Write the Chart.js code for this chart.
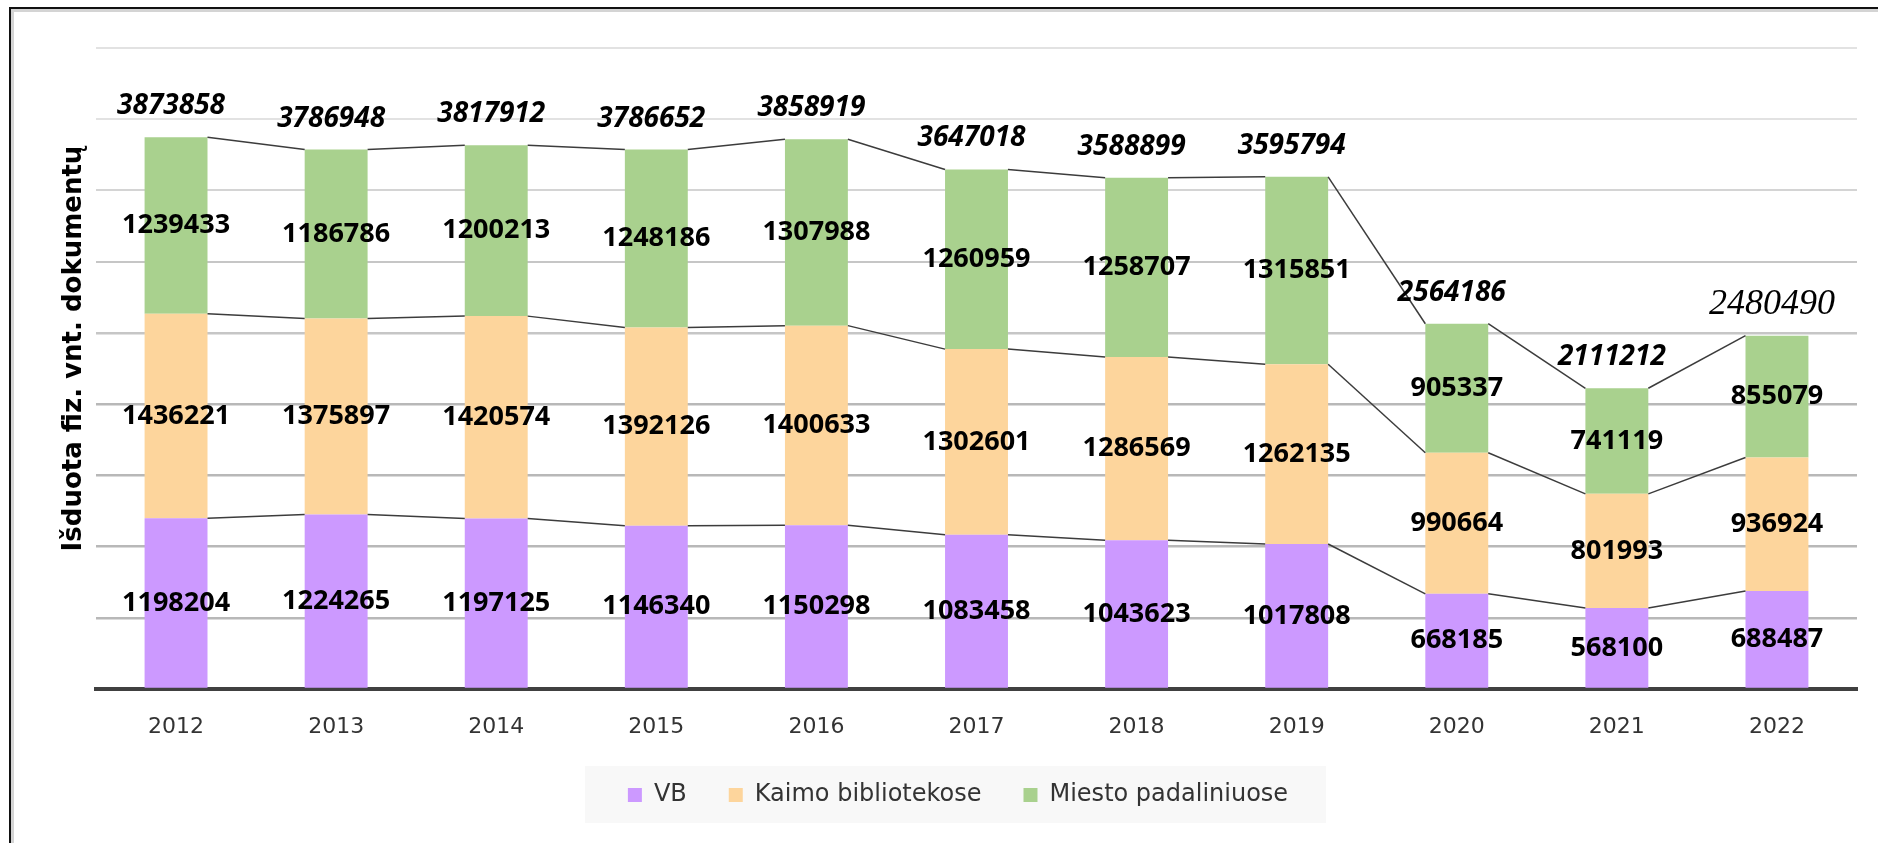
<!DOCTYPE html>
<html>
<head>
<meta charset="utf-8">
<script src="https://cdn.jsdelivr.net/npm/chart.js@4.4.1/dist/chart.umd.min.js"></script>
<style>
  html, body { margin: 0; padding: 0; background: #fff; overflow: hidden; }
  #frame {
    position: absolute; left: 9px; top: 7px; width: 3000px; height: 3000px;
    border-left: 2px solid #111; border-top: 2px solid #111;
    box-shadow: inset 3px 3px 0 #d4d4d4;
  }
  #wrap { position: absolute; left: 0; top: 0; width: 1878px; height: 843px; }
</style>
</head>
<body>
<div id="frame"></div>
<div id="wrap"><canvas id="chart"></canvas></div>
<script>
const years = ['2012', '2013', '2014', '2015', '2016', '2017', '2018', '2019', '2020', '2021', '2022'];
const vb = [1198204, 1224265, 1197125, 1146340, 1150298, 1083458, 1043623, 1017808, 668185, 568100, 688487];
const kaimo = [1436221, 1375897, 1420574, 1392126, 1400633, 1302601, 1286569, 1262135, 990664, 801993, 936924];
const miesto = [1239433, 1186786, 1200213, 1248186, 1307988, 1260959, 1258707, 1315851, 905337, 741119, 855079];
const totals = [3873858, 3786948, 3817912, 3786652, 3858919, 3647018, 3588899, 3595794, 2564186, 2111212, 2480490];
const yTitle = 'Išduota fiz. vnt. dokumentų';

// Excel-like series lines between the stacked segments
const seriesLines = {
  id: 'seriesLines',
  afterDatasetsDraw(chart) {
    const ctx = chart.ctx;
    ctx.save();
    ctx.strokeStyle = '#3c3c3c';
    ctx.lineWidth = 1.5;
    chart.data.datasets.forEach((ds, d) => {
      const bars = chart.getDatasetMeta(d).data;
      for (let i = 0; i < bars.length - 1; i++) {
        const a = bars[i], b = bars[i + 1];
        ctx.beginPath();
        ctx.moveTo(a.x + a.width / 2, a.y);
        ctx.lineTo(b.x - b.width / 2, b.y);
        ctx.stroke();
      }
    });
    ctx.restore();
  }
};

// values inside the segments, totals above the bars, axis title
const valueLabels = {
  id: 'valueLabels',
  afterDraw(chart) {
    const ctx = chart.ctx;
    ctx.save();
    ctx.fillStyle = '#000';
    ctx.textAlign = 'center';
    ctx.textBaseline = 'middle';
    ctx.font = 'bold 27px "Open Sans"';
    chart.data.datasets.forEach((ds, d) => {
      chart.getDatasetMeta(d).data.forEach((bar, i) => {
        ctx.fillText(String(ds.data[i]), bar.x, (bar.y + bar.base) / 2);
      });
    });
    const top = chart.getDatasetMeta(chart.data.datasets.length - 1).data;
    top.forEach((bar, i) => {
      if (i === top.length - 1) {
        ctx.font = 'italic 36px "Liberation Serif"';
      } else {
        ctx.font = 'bold italic 28px "Open Sans"';
      }
      ctx.fillText(String(totals[i]), bar.x - 5, bar.y - 31);
    });

    const area = chart.chartArea;
    ctx.translate(chart.scales.y.left + 15, (area.top + area.bottom) / 2 - 20);
    ctx.rotate(-Math.PI / 2);
    ctx.font = 'bold 26px "DejaVu Sans"';
    ctx.fillText(yTitle, 0, 0);
    ctx.restore();
  }
};

// light panel behind the legend
const legendPanel = {
  id: 'legendPanel',
  beforeDraw(chart) {
    const boxes = chart.legend && chart.legend.legendHitBoxes;
    if (!boxes || !boxes.length) return;
    const left = Math.min(...boxes.map(b => b.left));
    const right = Math.max(...boxes.map(b => b.left + b.width));
    const mid = boxes[0].top + boxes[0].height / 2;
    const ctx = chart.ctx;
    ctx.save();
    ctx.fillStyle = '#f8f8f8';
    ctx.fillRect(left - 43, mid - 29, right - left + 81, 57);
    ctx.restore();
  }
};

function gridColor(ctx) {
  const v = ctx.tick.value;
  if (v === 0) return 'rgba(0,0,0,0)';
  if (v <= 2000000) return '#b8b8b8';
  if (v <= 3000000) return '#c6c6c6';
  if (v <= 3500000) return '#d4d4d4';
  return '#e2e2e2';
}

new Chart(document.getElementById('chart'), {
  type: 'bar',
  data: {
    labels: years,
    datasets: [
      { label: 'VB', data: vb, backgroundColor: '#CC99FF' },
      { label: 'Kaimo bibliotekose', data: kaimo, backgroundColor: '#FDD59C' },
      { label: 'Miesto padaliniuose', data: miesto, backgroundColor: '#A9D18E' }
    ]
  },
  options: {
    responsive: true,
    maintainAspectRatio: false,
    animation: false,
    events: [],
    layout: { padding: { left: 59, right: 21, top: 48, bottom: 26 } },
    datasets: {
      bar: { categoryPercentage: 1, barPercentage: 0.393, borderWidth: 0 }
    },
    scales: {
      x: {
        stacked: true,
        afterFit(scale) { scale.height = 52; },
        grid: { display: false, drawTicks: false },
        border: { display: true, color: '#404040', width: 4 },
        ticks: { color: '#333', padding: 25, font: { family: 'DejaVu Sans', size: 22 } }
      },
      y: {
        stacked: true,
        min: 0,
        max: 4500000,
        afterFit(scale) { scale.width = 37; },
        ticks: { display: false, stepSize: 500000 },
        border: { display: false },
        grid: {
          drawTicks: false,
          color: gridColor,
          lineWidth: ctx => (ctx.tick.value <= 2500000 ? 2.5 : 2)
        }
      }
    },
    plugins: {
      legend: {
        position: 'bottom',
        labels: {
          color: '#333',
          boxWidth: 14,
          boxHeight: 14,
          padding: 42,
          font: { family: 'DejaVu Sans', size: 24 }
        }
      },
      tooltip: { enabled: false }
    }
  },
  plugins: [legendPanel, seriesLines, valueLabels]
});
</script>
</body>
</html>
